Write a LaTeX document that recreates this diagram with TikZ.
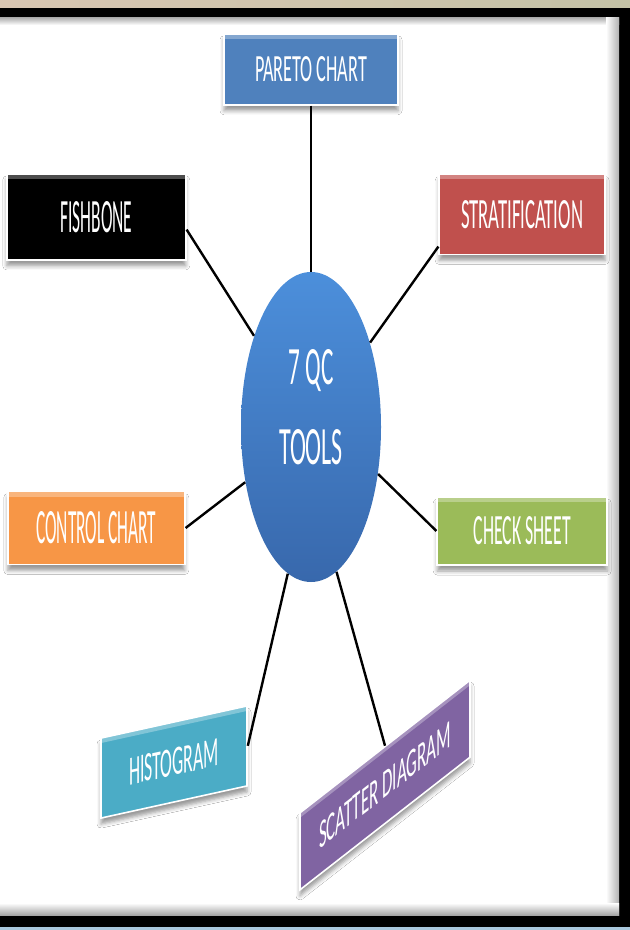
\documentclass[tikz,border=0pt]{standalone}
\usepackage{fontspec}
\setmainfont{Carlito}
\usepackage{graphicx}
\usepackage{tikz}
\usetikzlibrary{positioning,calc,shadows.blur,shapes.geometric}

\definecolor{paretoblue}{HTML}{4F81BD}
\definecolor{stratred}{HTML}{C0504D}
\definecolor{ctrlorange}{HTML}{F79646}
\definecolor{checkgreen}{HTML}{9BBB59}
\definecolor{histcyan}{HTML}{4BACC6}
\definecolor{scatpurple}{HTML}{8064A2}
\definecolor{hubtop}{HTML}{4C8FDB}
\definecolor{hubbottom}{HTML}{3868AC}
\definecolor{stripleft}{HTML}{D9C6B2}
\definecolor{stripmid}{HTML}{EFCDA9}
\definecolor{stripright}{HTML}{C4C2A6}
\definecolor{footblue}{HTML}{A9C8DD}
\definecolor{footpink}{HTML}{E6D6D0}

% squeeze a label into a fixed width and cap height
\newcommand{\fitlabel}[3]{\resizebox{#1}{#2}{#3}}

\tikzset{
	tool box/.style =
    {
			rectangle, draw = white, line width = 0.8pt,
			fill = #1, text = white, inner sep = 0pt,
			blur shadow = {shadow xshift = 0pt, shadow yshift = -3pt, shadow blur radius = 2pt},
			path picture =
            {
					\fill [white, opacity = 0.3] (path picture bounding box.north west)
						rectangle ([yshift = -2.5pt]path picture bounding box.north east);
            }
    },
	link/.style = {draw = black, line width = 1.2pt}
}

\begin{document}
\begin{tikzpicture}[x=0.5pt, y=-0.5pt]
    \tikzset{hub/.style={ellipse, top color=hubtop, bottom color=hubbottom, draw=none,
        text=white, inner sep=0pt, minimum width=70pt, minimum height=155pt}}
    \useasboundingbox (0,0) rectangle (630,930);

    % Frame
    \shade [left color=stripleft, middle color=stripmid, right color=stripright] (0,0) rectangle (630,8);
    \fill [black] (0,8) rectangle (630,927);
    \fill [white] (0,18) rectangle (619,915);
    \shade [top color=gray!60, bottom color=white] (0,18) rectangle (619,25);
    \shade [left color=white, right color=gray!60] (606,18) rectangle (619,915);
    \shade [top color=white, bottom color=gray!70] (0,903) rectangle (619,915);
    \shade [left color=footblue, middle color=footpink, right color=footblue] (0,927) rectangle (630,930);

    % Nodes
    \node (qc) [hub] at (311,427)
        {\begin{tabular}{@{}c@{}}
            \fitlabel{22.5pt}{17.5pt}{7 QC}\\[18.5pt]
            \fitlabel{32pt}{17.5pt}{TOOLS}\rule[-20pt]{0pt}{20pt}
        \end{tabular}};
    \node (pareto) [tool box=paretoblue, minimum width=87pt, minimum height=35.5pt,
        above=83pt of qc] {\fitlabel{56pt}{12.5pt}{PARETO CHART}};
    \node (ctrl) [tool box=ctrlorange, minimum width=88.5pt, minimum height=36.5pt,
        left=27.5pt of qc, yshift=-50.5pt] {\fitlabel{60pt}{16pt}{CONTROL CHART}};
    \node (check) [tool box=checkgreen, minimum width=85pt, minimum height=34pt,
        right=27.5pt of qc, yshift=-52pt] {\fitlabel{48.5pt}{14pt}{CHECK SHEET}};
    \node (fish) [tool box=black, minimum width=89.5pt, minimum height=43pt,
        above=115pt of ctrl] {\fitlabel{36pt}{15.5pt}{FISHBONE}};
    \node (strat) [tool box=stratred, minimum width=83pt, minimum height=40pt,
        above=120.5pt of check] {\fitlabel{61pt}{14pt}{STRATIFICATION}};
    \node (hist) [tool box=histcyan, minimum width=73pt, minimum height=40pt,
        yslant=0.22, transform shape] at (174,762) {\fitlabel{45pt}{13.5pt}{HISTOGRAM}};
    \node (scat) [tool box=scatpurple, minimum width=85pt, minimum height=38.5pt,
        yslant=0.78, transform shape] at (385,785) {\fitlabel{66pt}{13pt}{SCATTER DIAGRAM}};

    % Connectors
    \draw [link] (pareto) -- (qc);
    \draw [link] (fish.-8) -- (qc.122);
    \draw [link] (strat.201) -- (qc.55);
    \draw [link] (ctrl.east) -- (qc.220);
    \draw [link] (check.west) -- (qc.-35);
    \draw [link] (hist.east) -- (qc.261);
    \draw [link] (scat.north) -- (qc.-80);
\end{tikzpicture}
\end{document}
